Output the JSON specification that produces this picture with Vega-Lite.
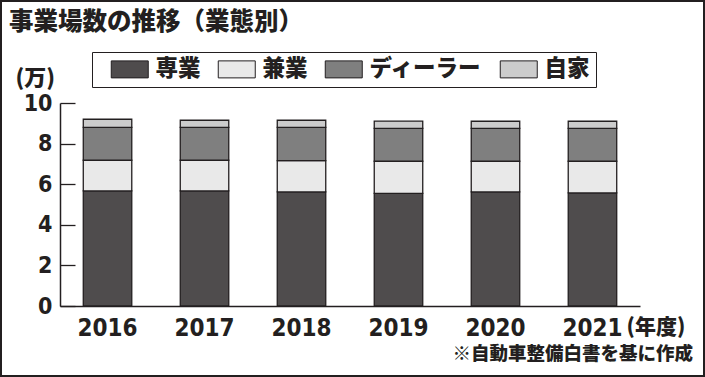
{
  "$schema": "https://vega.github.io/schema/vega-lite/v6.json",
  "width": 580,
  "height": 203,
  "autosize": {"type": "none"},
  "padding": {"left": 60, "top": 103, "right": 65, "bottom": 71},
  "background": "white",
  "config": {
    "view": {"stroke": null},
    "axis": {"domainColor": "#231f20", "domainWidth": 1.5, "grid": false}
  },
  "layer": [
    {
      "data": {
        "values": [
          {"year": "2016", "type": "専業", "rank": 1, "value": 5.67},
          {"year": "2016", "type": "兼業", "rank": 2, "value": 1.51},
          {"year": "2016", "type": "ディーラー", "rank": 3, "value": 1.62},
          {"year": "2016", "type": "自家", "rank": 4, "value": 0.40},
          {"year": "2017", "type": "専業", "rank": 1, "value": 5.67},
          {"year": "2017", "type": "兼業", "rank": 2, "value": 1.51},
          {"year": "2017", "type": "ディーラー", "rank": 3, "value": 1.62},
          {"year": "2017", "type": "自家", "rank": 4, "value": 0.35},
          {"year": "2018", "type": "専業", "rank": 1, "value": 5.62},
          {"year": "2018", "type": "兼業", "rank": 2, "value": 1.54},
          {"year": "2018", "type": "ディーラー", "rank": 3, "value": 1.64},
          {"year": "2018", "type": "自家", "rank": 4, "value": 0.35},
          {"year": "2019", "type": "専業", "rank": 1, "value": 5.55},
          {"year": "2019", "type": "兼業", "rank": 2, "value": 1.58},
          {"year": "2019", "type": "ディーラー", "rank": 3, "value": 1.62},
          {"year": "2019", "type": "自家", "rank": 4, "value": 0.36},
          {"year": "2020", "type": "専業", "rank": 1, "value": 5.62},
          {"year": "2020", "type": "兼業", "rank": 2, "value": 1.51},
          {"year": "2020", "type": "ディーラー", "rank": 3, "value": 1.62},
          {"year": "2020", "type": "自家", "rank": 4, "value": 0.35},
          {"year": "2021", "type": "専業", "rank": 1, "value": 5.57},
          {"year": "2021", "type": "兼業", "rank": 2, "value": 1.56},
          {"year": "2021", "type": "ディーラー", "rank": 3, "value": 1.62},
          {"year": "2021", "type": "自家", "rank": 4, "value": 0.35}
        ]
      },
      "mark": {"type": "bar", "stroke": "#231f20", "strokeWidth": 1.3},
      "encoding": {
        "x": {
          "field": "year",
          "type": "nominal",
          "scale": {"paddingInner": 0.5, "paddingOuter": 0.24},
          "axis": {
            "labelAngle": 0,
            "ticks": false,
            "labelPadding": 10,
            "labelFont": "DejaVu Sans Condensed, Liberation Sans, sans-serif",
            "labelFontWeight": "bold",
            "labelFontSize": 24,
            "labelColor": "#231f20",
            "title": "(年度)",
            "titleFont": "Noto Sans CJK JP",
            "titleFontWeight": 900,
            "titleFontSize": 21,
            "titleColor": "#231f20",
            "titleAnchor": "start",
            "titleAlign": "left",
            "titleBaseline": "middle",
            "titleX": 566,
            "titleY": 21
          }
        },
        "y": {
          "field": "value",
          "type": "quantitative",
          "stack": "zero",
          "scale": {"domain": [0, 10], "nice": false},
          "axis": {
            "values": [0, 2, 4, 6, 8, 10],
            "tickSize": -15,
            "tickColor": "#231f20",
            "tickWidth": 1.3,
            "labelPadding": 23,
            "labelFont": "DejaVu Sans Condensed, Liberation Sans, sans-serif",
            "labelFontWeight": "bold",
            "labelFontSize": 23,
            "labelColor": "#231f20",
            "title": "(万)",
            "titleFont": "Noto Sans CJK JP",
            "titleFontWeight": 900,
            "titleFontSize": 22,
            "titleColor": "#231f20",
            "titleAngle": 0,
            "titleAlign": "left",
            "titleBaseline": "middle",
            "titleX": -45,
            "titleY": -26
          }
        },
        "color": {
          "field": "type",
          "type": "nominal",
          "sort": ["専業", "兼業", "ディーラー", "自家"],
          "scale": {
            "domain": ["専業", "兼業", "ディーラー", "自家"],
            "range": ["#4f4c4d", "#e9e9e9", "#7f7f7f", "#cccccc"]
          },
          "legend": {
            "title": null,
            "orient": "none",
            "direction": "horizontal",
            "legendX": 32,
            "legendY": -51,
            "strokeColor": "#231f20",
            "padding": 6,
            "symbolType": "M0.4,-1.7H7.8V1.7H0.4Z",
            "symbolSize": 100,
            "symbolStrokeColor": "#231f20",
            "symbolStrokeWidth": 1,
            "symbolOpacity": 1,
            "labelFont": "Noto Sans CJK JP",
            "labelFontWeight": 900,
            "labelFontSize": 22.5,
            "labelColor": "#231f20",
            "labelOffset": 35,
            "columnPadding": 4
          }
        },
        "order": {"field": "rank", "type": "quantitative", "sort": "ascending"}
      }
    },
    {
      "data": {"values": [{"heading": "事業場数の推移（業態別）"}]},
      "mark": {
        "type": "text",
        "align": "left",
        "baseline": "middle",
        "font": "Noto Sans CJK JP",
        "fontWeight": 900,
        "fontSize": 24.5,
        "color": "#231f20"
      },
      "encoding": {
        "text": {"field": "heading"},
        "x": {"value": -51},
        "y": {"value": -80}
      }
    },
    {
      "data": {"values": [{"note": "※自動車整備白書を基に作成"}]},
      "mark": {
        "type": "text",
        "align": "right",
        "baseline": "middle",
        "font": "Noto Sans CJK JP",
        "fontWeight": 900,
        "fontSize": 18.5,
        "color": "#231f20"
      },
      "encoding": {
        "text": {"field": "note"},
        "x": {"value": 633},
        "y": {"value": 251}
      }
    },
    {
      "data": {"values": [{"frame": 1}]},
      "mark": {"type": "rect", "fill": null, "stroke": "#231f20", "strokeWidth": 2},
      "encoding": {
        "x": {"value": -59},
        "x2": {"value": 644},
        "y": {"value": -102},
        "y2": {"value": 273}
      }
    }
  ]
}
